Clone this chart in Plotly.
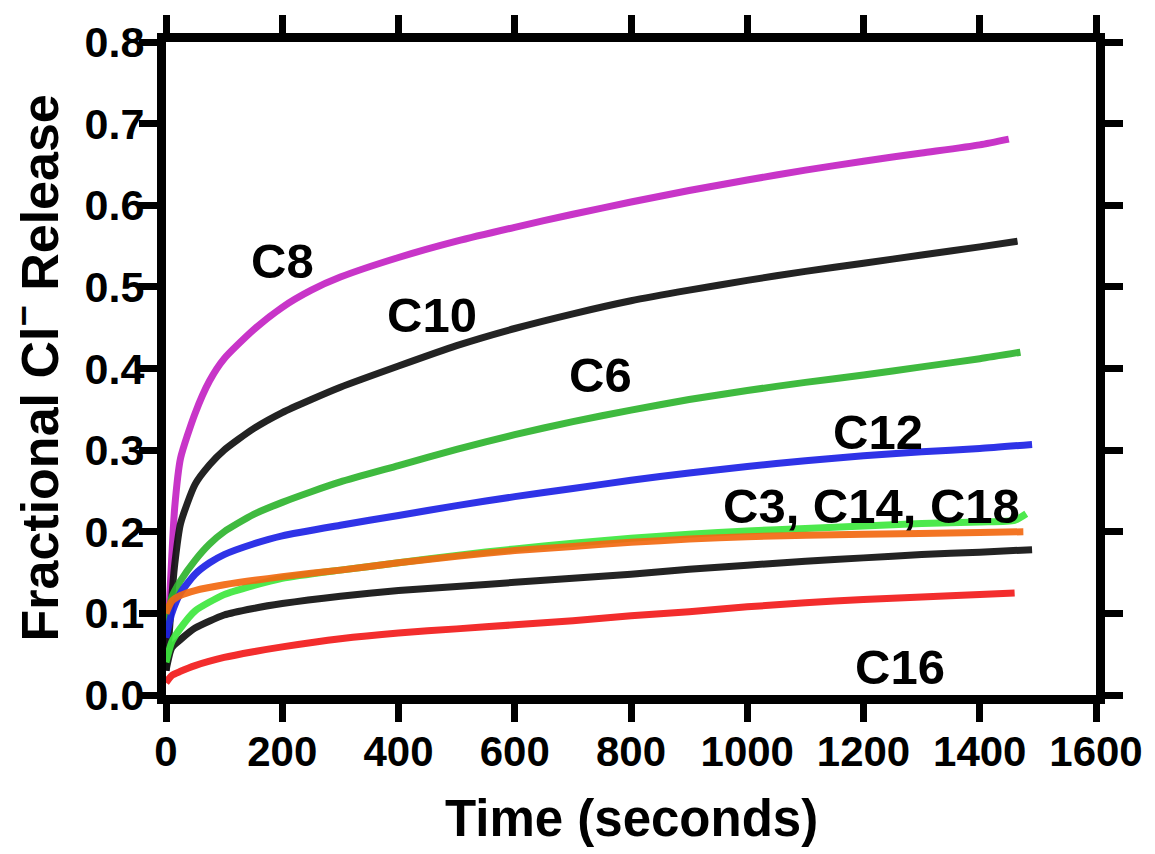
import plotly.graph_objects as go

# ---- data (time in s, fractional Cl- release) ----
t_c8 = [0, 5, 10, 15, 25, 50, 75, 100, 150, 200, 250, 300, 400, 500, 600, 700, 800, 900, 1000, 1100, 1200, 1300, 1400, 1450]
v_c8 = [0.03, 0.10, 0.17, 0.23, 0.29, 0.345, 0.385, 0.412, 0.447, 0.475, 0.496, 0.512, 0.536, 0.556, 0.573, 0.589, 0.604, 0.618, 0.631, 0.643, 0.654, 0.664, 0.674, 0.681]

t_c10 = [0, 5, 10, 15, 25, 50, 75, 100, 150, 200, 250, 300, 400, 500, 600, 700, 800, 900, 1000, 1100, 1200, 1300, 1400, 1465]
v_c10 = [0.03, 0.07, 0.12, 0.16, 0.21, 0.258, 0.282, 0.30, 0.326, 0.346, 0.362, 0.377, 0.403, 0.428, 0.449, 0.467, 0.483, 0.496, 0.508, 0.519, 0.529, 0.539, 0.549, 0.556]

t_c6 = [0, 10, 25, 50, 75, 100, 150, 200, 250, 300, 400, 500, 600, 700, 800, 900, 1000, 1100, 1200, 1300, 1400, 1470]
v_c6 = [0.08, 0.12, 0.14, 0.165, 0.185, 0.2, 0.221, 0.236, 0.249, 0.261, 0.281, 0.301, 0.319, 0.335, 0.349, 0.362, 0.373, 0.383, 0.392, 0.402, 0.412, 0.42]

t_c12 = [0, 10, 25, 50, 75, 100, 150, 200, 300, 400, 500, 600, 700, 800, 900, 1000, 1100, 1200, 1300, 1400, 1490]
v_c12 = [0.07, 0.1, 0.125, 0.148, 0.162, 0.172, 0.185, 0.195, 0.208, 0.22, 0.232, 0.243, 0.253, 0.263, 0.272, 0.28, 0.287, 0.293, 0.298, 0.302, 0.307]

t_orange = [0, 10, 25, 50, 100, 200, 300, 400, 500, 600, 700, 800, 900, 1000, 1200, 1400, 1475]
v_orange = [0.1, 0.115, 0.122, 0.128, 0.135, 0.145, 0.153, 0.162, 0.17, 0.177, 0.182, 0.187, 0.191, 0.194, 0.197, 0.199, 0.2]

t_lime = [0, 10, 25, 50, 100, 150, 200, 300, 400, 500, 600, 700, 800, 900, 1000, 1100, 1200, 1300, 1400, 1460, 1480]
v_lime = [0.04, 0.065, 0.082, 0.103, 0.123, 0.134, 0.143, 0.153, 0.162, 0.171, 0.179, 0.186, 0.192, 0.197, 0.201, 0.204, 0.207, 0.21, 0.212, 0.214, 0.222]

t_black2 = [0, 10, 25, 50, 100, 150, 200, 300, 400, 500, 600, 700, 800, 900, 1000, 1100, 1200, 1300, 1400, 1490]
v_black2 = [0.03, 0.058, 0.068, 0.082, 0.098, 0.106, 0.112, 0.121, 0.128, 0.133, 0.138, 0.143, 0.148, 0.154, 0.159, 0.164, 0.168, 0.172, 0.175, 0.178]

t_c16 = [0, 10, 25, 50, 100, 150, 200, 300, 400, 500, 600, 700, 800, 900, 1000, 1100, 1200, 1300, 1400, 1460]
v_c16 = [0.015, 0.024, 0.029, 0.036, 0.046, 0.053, 0.059, 0.069, 0.076, 0.081, 0.086, 0.091, 0.097, 0.102, 0.108, 0.113, 0.117, 0.12, 0.123, 0.125]

series = [
    ("C8", t_c8, v_c8, "#c424c4"),
    ("C10", t_c10, v_c10, "#111111"),
    ("C6", t_c6, v_c6, "#2fb52f"),
    ("C12", t_c12, v_c12, "#1e22e6"),
    ("C16", t_c16, v_c16, "#f21c1c"),
    ("black", t_black2, v_black2, "#111111"),
    ("lime", t_lime, v_lime, "#3ee83e"),
    ("orange", t_orange, v_orange, "#f26a12"),
]

labels = ["C8", "C10", "C6", "C12", "C3, C14, C18", "C16"]
label_x = [200, 458, 747, 1225, 1213, 1263]
label_y = [0.532, 0.466, 0.392, 0.322, 0.232, 0.034]

x_ticks = [0, 200, 400, 600, 800, 1000, 1200, 1400, 1600]
y_ticks = [0.0, 0.1, 0.2, 0.3, 0.4, 0.5, 0.6, 0.7, 0.8]

FONT = "Liberation Sans"

fig = go.Figure()
for name, t, v, c in series:
    fig.add_trace(go.Scatter(x=t, y=v, mode="lines", name=name,
                             line=dict(color=c, width=7, shape="spline", smoothing=0.6),
                             opacity=0.92, showlegend=False))

for txt, lx, ly in zip(labels, label_x, label_y):
    fig.add_annotation(x=lx, y=ly, xref="x", yref="y", text=txt, showarrow=False,
                       font=dict(family=FONT, size=49, color="black", weight="bold"))

fig.add_annotation(x=0.5, y=0, xref="paper", yref="paper", yshift=-123,
                   text="Time (seconds)", showarrow=False, yanchor="middle",
                   font=dict(family=FONT, size=51, color="black", weight="bold"))
fig.add_annotation(x=0, y=0.5, xref="paper", yref="paper", xshift=-130,
                   text="Fractional Cl<sup>−</sup> Release", showarrow=False, textangle=-90,
                   xanchor="center", yanchor="middle",
                   font=dict(family=FONT, size=52, color="black", weight="bold"))

axis_common = dict(showline=True, linewidth=9, linecolor="black", mirror="allticks",
                   ticks="outside", ticklen=18, tickwidth=7, tickcolor="black",
                   showgrid=False, zeroline=False)

fig.update_xaxes(range=[0, 1600], tickvals=x_ticks, ticktext=[str(v) for v in x_ticks],
                 ticklabelstandoff=-6,
                 tickfont=dict(family=FONT, size=42, color="black", weight="bold"),
                 **axis_common)
fig.update_yaxes(range=[0, 0.8], tickvals=y_ticks, ticktext=[f"{v:.1f}" for v in y_ticks],
                 ticklabelstandoff=-14,
                 tickfont=dict(family=FONT, size=43, color="black", weight="bold"),
                 **axis_common)

fig.update_layout(width=1155, height=854, plot_bgcolor="white", paper_bgcolor="white",
                  margin=dict(l=166, r=59, t=42, b=159), showlegend=False)

fig.write_html("out.html")
